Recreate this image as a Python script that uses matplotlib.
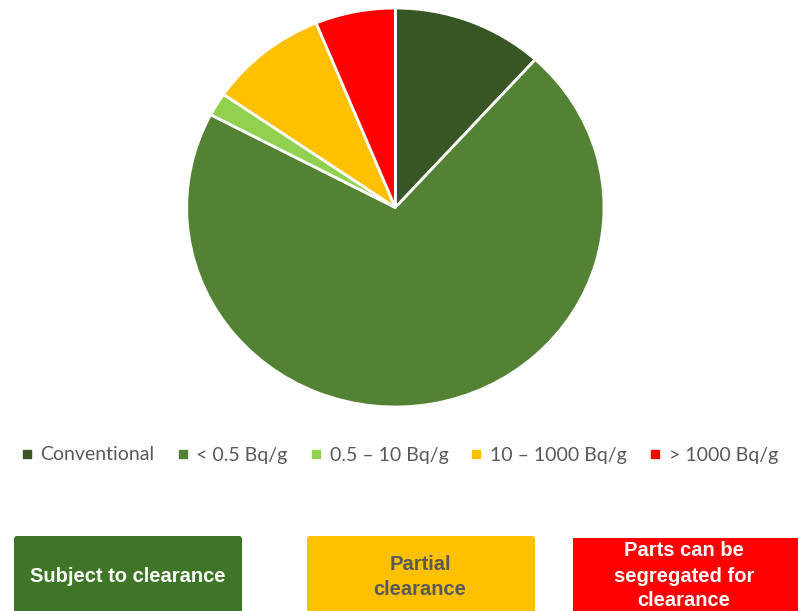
import matplotlib.pyplot as plt
from matplotlib.lines import Line2D
from matplotlib.patches import FancyBboxPatch, Rectangle

# Pie data (share of total, %)
labels = ['Conventional', '< 0.5 Bq/g', '0.5 – 10 Bq/g', '10 – 1000 Bq/g', '> 1000 Bq/g']
shares = [11.7, 71.0, 1.9, 9.2, 6.2]
colors = ['#375623', '#548235', '#92D050', '#FFC000', '#FF0000']

# Boxes below the chart
box_texts = ['Subject to clearance', 'Partial\nclearance', 'Parts can be\nsegregated for\nclearance']
box_colors = ['#3F7527', '#FFC000', '#FF0000']
box_text_colors = ['white', '#595959', 'white']

W, H = 798, 611
fig = plt.figure(figsize=(W / 100, H / 100), dpi=100)

# pie axes placed in pixel space (the original is slightly stretched horizontally)
ax = fig.add_axes([186.7 / W, (H - 407) / H, 417.3 / W, 399 / H])
ax.pie(shares, colors=colors, startangle=90, counterclock=False,
       wedgeprops=dict(edgecolor='white', linewidth=2))
ax.set_aspect('auto')
ax.set_xlim(-1, 1)
ax.set_ylim(-1, 1)
ax.axis('off')

# legend
handles = [Line2D([], [], marker='s', linestyle='none', markersize=6,
                  markerfacecolor=c, markeredgecolor=c) for c in colors]
leg = fig.legend(handles, labels, loc='center', bbox_to_anchor=(400 / W, 1 - 455 / H),
                 ncol=5, frameon=False, handlelength=0.5, handletextpad=0.45,
                 columnspacing=1.2, prop={'family': 'Lato', 'size': 14})
for t in leg.get_texts():
    t.set_color('#595959')

# coloured boxes
bax = fig.add_axes([0, 0, 1, 1])
bax.set_xlim(0, W)
bax.set_ylim(H, 0)
bax.axis('off')
boxes = [(14, 536, 228), (307, 536, 228), (573, 538, 240)]
for (x, y, w), c in zip(boxes, box_colors):
    if c == '#FF0000':
        bax.add_patch(Rectangle((x, y), w, 90, facecolor=c, edgecolor='none'))
    else:
        bax.add_patch(FancyBboxPatch((x, y), w, 90, boxstyle='round,pad=0,rounding_size=3',
                                     facecolor=c, edgecolor='none'))

text_pos = [(128, 577), (420, 577), (684, 576)]
for (tx, ty), s, tc in zip(text_pos, box_texts, box_text_colors):
    bax.text(tx, ty, s, ha='center', va='center', color=tc, fontsize=14.5,
             fontweight='bold', family='Liberation Sans', linespacing=1.4)

fig.savefig('out.png', dpi=100)
